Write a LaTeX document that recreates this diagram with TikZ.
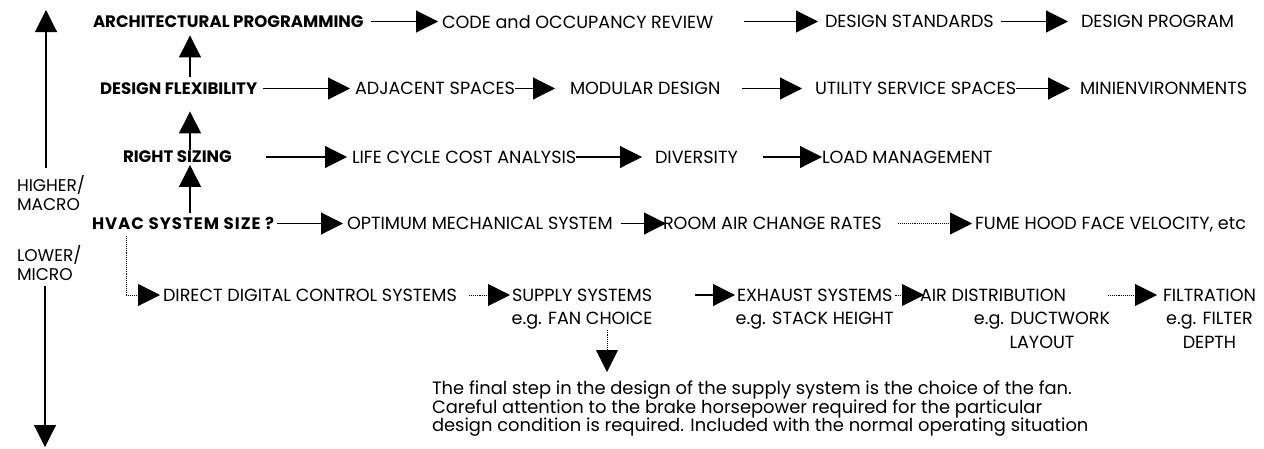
\documentclass[tikz,border=0pt]{standalone}
\usepackage{fontspec}
\setmainfont{Poppins}
\usetikzlibrary{positioning,arrows.meta}

\begin{document}
\begin{tikzpicture}
[x=1pt,y=-1pt,
 every node/.style={inner sep=0pt,outer sep=0pt,font=\fontsize{17.6}{24}\selectfont},
 it/.style={anchor=west,text depth=0pt},
 hd/.style={it,font=\fontsize{16.6}{24}\selectfont\bfseries},
 sub/.style={text depth=0pt},
 side/.style={anchor=north west,align=left,font=\fontsize{17}{19}\selectfont},
 arr/.style={line width=1.1pt,-{Triangle[length=22pt,width=22pt]}},
 dots/.style={arr,densely dotted,line width=0.9pt}]
\useasboundingbox (0,0) rectangle (1264,448);

% level axis
\node[side] (higher) at (17,175.5) {HIGHER/\\MACRO};
\node[side] (lower)  at (17,245.5) {LOWER/\\MICRO};
\coordinate (axtop) at (46,10);
\coordinate (axbot) at (45,447);
\draw[arr,shorten <=8pt] (higher.north -| axtop) -- (axtop);
\draw[arr,shorten <=5pt] (lower.south -| axbot) -- (axbot);

% rows
\node[hd] (arch)  at (93,21.5)   {ARCHITECTURAL PROGRAMMING};
\node[it] (code)  at (442,21.5)  {CODE and OCCUPANCY REVIEW};
\node[it] (dstd)  at (825,21.5)  {DESIGN STANDARDS};
\node[it] (dprog) at (1081,21.5) {DESIGN PROGRAM};

\node[hd] (dflex) at (100,88.5)  {DESIGN FLEXIBILITY};
\node[it] (adj)   at (355,88.5)  {ADJACENT SPACES};
\node[it] (mod)   at (570,88.5)  {MODULAR DESIGN};
\node[it] (util)  at (815,88.5)  {UTILITY SERVICE SPACES};
\node[it] (mini)  at (1080,88.5) {MINIENVIRONMENTS};

\node[hd] (rsize) at (123,157)   {RIGHT SIZING};
\node[it] (lcca)  at (352,157)   {LIFE CYCLE COST ANALYSIS};
\node[it] (div)   at (655,157)   {DIVERSITY};
\node[it] (load)  at (822,157)   {LOAD MANAGEMENT};

\node[hd] (hvac)  at (92,223.5)  {\addfontfeature{LetterSpace=6}HVAC SYSTEM SIZE ?};
\node[it] (opt)   at (347,223.5) {OPTIMUM MECHANICAL SYSTEM};
\node[it] (room)  at (663,223.5) {ROOM AIR CHANGE RATES};
\node[it] (fume)  at (975,223.5) {FUME HOOD FACE VELOCITY, etc};

\node[it] (ddc)     at (163,295)  {DIRECT DIGITAL CONTROL SYSTEMS};
\node[it] (supply)  at (512,295)  {SUPPLY SYSTEMS};
\node[it] (exhaust) at (737,295)  {EXHAUST SYSTEMS};
\node[it] (air)     at (920,295)  {AIR DISTRIBUTION};
\node[it] (filt)    at (1163,295) {FILTRATION};
\node[sub] (supplyeg)  [on grid,below=23pt of supply]  {e.g. FAN CHOICE};
\node[sub] (exhausteg) [on grid,below=23pt of exhaust] {e.g. STACK HEIGHT};
\node[sub] (ducteg)    at (1042,318)                   {e.g. DUCTWORK};
\node[sub] (layout)    [on grid,below=24pt of ducteg]  {LAYOUT};
\node[sub] (filteg)    [on grid,below=23pt of filt]    {e.g. FILTER};
\node[sub] (depth)     [on grid,below=24pt of filteg]  {DEPTH};

\node[anchor=north west,align=left,font=\fontsize{17.9}{18.6}\selectfont] (para) at (432,381)
  {The final step in the design of the supply system is the choice of the fan.\\
   Careful attention to the brake horsepower required for the particular\\
   design condition is required.  Included with the normal operating situation};

% upward chain
\coordinate (upx) at (190,0);
\draw[arr,shorten <=4pt,shorten >=2pt]  (hvac.north -| upx)  -- (rsize.south -| upx);
\draw[arr,shorten <=1pt,shorten >=17pt] (rsize.north -| upx) -- (dflex.south -| upx);
\draw[arr,shorten <=6pt,shorten >=8pt]  (dflex.north -| upx) -- (arch.south -| upx);

% across
\path[arr] (arch)  edge[shorten <=7pt,shorten >=4pt]  (code);
\path[arr] (code)  edge[shorten <=31pt,shorten >=7pt] (dstd);
\path[arr] (dstd)  edge[shorten <=7pt,shorten >=13pt] (dprog);
\path[arr] (dflex) edge[shorten <=6pt,shorten >=5pt]  (adj);
\path[arr] (adj)   edge[shorten >=15pt]               (mod);
\path[arr] (mod)   edge[shorten <=22pt,shorten >=13pt] (util);
\path[arr] (util)  edge[shorten >=10pt]               (mini);
\path[arr] (rsize) edge[shorten <=34pt,shorten >=5pt] (lcca);
\path[arr] (lcca)  edge[shorten >=13pt]               (div);
\path[arr] (div)   edge[shorten <=25pt]               (load);
\path[arr] (hvac)  edge[shorten <=3pt,shorten >=4pt]  (opt);
\path[arr] (opt)   edge[shorten <=8pt,shorten >=-3pt] (room);
\path[dots] (room) edge[shorten <=16pt,shorten >=3pt] (fume);

\coordinate (elbx) at (126,0);
\draw[dots,shorten <=6pt,shorten >=3pt] (hvac.south -| elbx) |- (ddc);
\path[dots] (ddc)     edge[shorten <=12pt,shorten >=2pt] (supply);
\path[arr]  (supply)  edge[shorten <=43pt,shorten >=2pt] (exhaust);
\path[dots] (exhaust) edge[shorten <=3pt,shorten >=-4pt] (air);
\path[dots] (air)     edge[shorten <=42pt,shorten >=6pt] (filt);

\coordinate (fanx) at (607,0);
\draw[dots,shorten <=6pt,shorten >=9pt] (supplyeg.south -| fanx) -- (para.north -| fanx);
\end{tikzpicture}
\end{document}
